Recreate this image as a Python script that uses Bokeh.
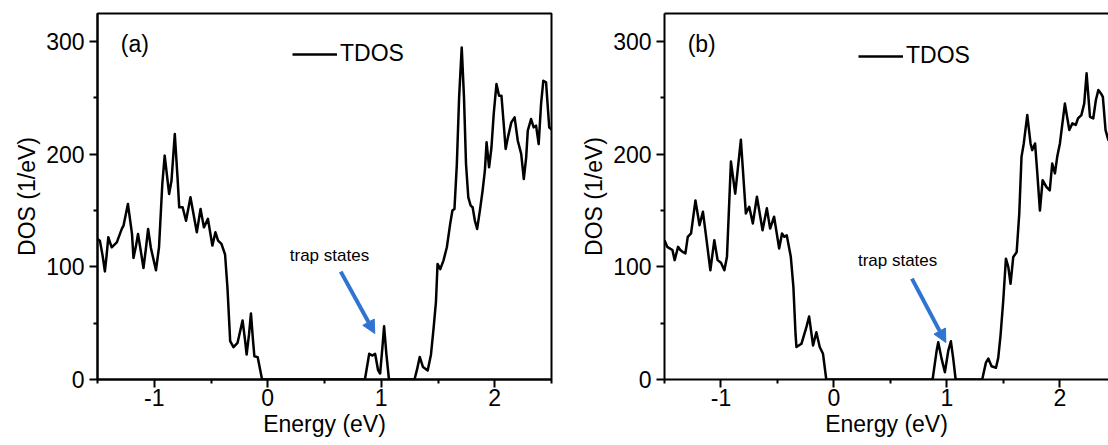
from bokeh.plotting import figure
from bokeh.models import (Range1d, FixedTicker, Legend, LegendItem, Label,
                          Arrow, NormalHead, LinearAxis)
from bokeh.layouts import row
from bokeh.embed import file_html
from bokeh.resources import INLINE

# Total density of states, panel (a)
energy_a = [-1.5, -1.479, -1.455, -1.435, -1.42, -1.405, -1.375, -1.33, -1.286, -1.271,
            -1.232, -1.196, -1.183, -1.162, -1.143, -1.12, -1.095, -1.075, -1.054, -1.03,
            -0.985, -0.958, -0.929, -0.908, -0.869, -0.848, -0.819, -0.795, -0.78, -0.75,
            -0.72, -0.681, -0.625, -0.592, -0.5625, -0.527, -0.488, -0.461, -0.4375, -0.408,
            -0.376, -0.355, -0.331, -0.302, -0.266, -0.222, -0.20, -0.186, -0.165, -0.148,
            -0.13, -0.118, -0.089, -0.05,
            0.856, 0.894, 0.923, 0.946, 0.972, 0.99, 1.01, 1.025, 1.045, 1.068,
            1.293, 1.316, 1.339, 1.368, 1.409, 1.438, 1.461, 1.482, 1.496, 1.52,
            1.548, 1.578, 1.607, 1.627, 1.645, 1.666, 1.686, 1.709, 1.729, 1.747,
            1.767, 1.788, 1.805, 1.825, 1.845, 1.869, 1.893, 1.913, 1.928, 1.95,
            1.971, 1.991, 2.015, 2.038, 2.059, 2.079, 2.096, 2.116, 2.146, 2.175,
            2.203, 2.233, 2.256, 2.277, 2.291, 2.32, 2.343, 2.364, 2.387, 2.408,
            2.428, 2.452, 2.48, 2.5]
dos_a = [124.8, 123.3, 110, 96, 110, 126.3, 117.4, 121.8, 133.7, 136.6,
         155.9, 129.3, 108, 118, 129.3, 115, 99, 115, 133.7, 117,
         97, 117.4, 173.6, 198.8, 164.8, 176.6, 218, 179.5, 152.9, 152.9,
         141, 161.8, 130.7, 151.5, 135.1, 142.6, 118.9, 130.7, 123.3, 120.4,
         111, 81.5, 34, 28.7, 32.6, 52.4, 35, 22.2, 40, 58.7,
         35, 20.7, 19.9, 0,
         0, 22.8, 21.3, 22.8, 8.3, 5.3, 28.4, 47.3, 22.8, 0,
         0, 9.2, 20, 11, 8, 22, 45.3, 69, 102.6, 98,
         105.6, 117.4, 138, 150, 151.4, 191, 250.5, 294.9, 250.5, 191,
         161.8, 154.4, 152.9, 141, 133.7, 150, 167.7, 185.4, 210.6, 188.4,
         206, 235.8, 262.4, 252, 252, 226.9, 204.7, 215, 228.3, 232.8,
         212, 200.3, 178, 197.3, 221, 231.3, 223.9, 225.4, 209, 244.6,
         265.3, 263.8, 223.9, 222]

# Total density of states, panel (b)
energy_b = [-1.5, -1.476, -1.447, -1.43, -1.41, -1.38, -1.36, -1.335, -1.315, -1.294,
            -1.265, -1.226, -1.19, -1.16, -1.124, -1.094, -1.059, -1.03, -1.0, -0.97,
            -0.947, -0.912, -0.874, -0.824, -0.78, -0.75, -0.718, -0.682, -0.632, -0.594,
            -0.565, -0.53, -0.485, -0.46, -0.44, -0.418, -0.382, -0.359, -0.34, -0.332,
            -0.288, -0.244, -0.22, -0.185, -0.156, -0.126, -0.097, -0.068,
            0.873, 0.909, 0.923, 0.953, 0.982, 1.012, 1.035, 1.056, 1.077,
            1.312, 1.345, 1.366, 1.395, 1.434, 1.454, 1.475, 1.498, 1.522, 1.543,
            1.563, 1.587, 1.617, 1.64, 1.66, 1.68, 1.711, 1.74, 1.755, 1.78,
            1.80, 1.823, 1.847, 1.88, 1.91, 1.932, 1.956, 1.976, 2.0, 2.044,
            2.083, 2.11, 2.14, 2.16, 2.19, 2.215, 2.236, 2.266, 2.295, 2.318,
            2.34, 2.363, 2.38, 2.404, 2.43]
dos_b = [123.7, 117.8, 116, 115, 106, 117.8, 115, 113, 112, 126.7,
         129.7, 159, 137, 149, 120.8, 97, 123.7, 106, 103.6, 97,
         109, 193.5, 165, 212.8, 147.5, 153.4, 138.6, 162.3, 132.6, 152,
         134, 144.5, 116.3, 129.7, 126.7, 128, 109, 82, 40, 28.8,
         31.7, 46.5, 56, 30.2, 42, 28.8, 22.8, 0,
         0, 25.7, 33.1, 18.3, 6.5, 25.7, 33.9, 18.3, 0,
         0, 15, 18.6, 11.8, 10.4, 19.2, 39.9, 69.5, 107.3, 100,
         85, 108.8, 113, 147, 197.7, 209.6, 234.8, 209.6, 203.7, 209.6,
         183, 150, 177, 171, 168, 191.8, 183, 197.7, 209.6, 245,
         221.5, 227.4, 226, 231.8, 234.8, 245, 271.9, 233.3, 231.8, 248,
         257, 254, 251, 221.5, 212]

x_major = [-1, 0, 1, 2]
x_minor = [-1.5, -0.5, 0.5, 1.5, 2.5]
y_major = [0, 100, 200, 300]
y_minor = [50, 150, 250]

FONT = "Liberation Sans"
ARROW_BLUE = "#2f74d2"


def style_axis(ax):
    ax.axis_line_width = 2
    ax.axis_line_color = "black"
    ax.major_tick_line_width = 2
    ax.minor_tick_line_width = 2
    ax.major_tick_line_color = "black"
    ax.minor_tick_line_color = "black"
    ax.major_tick_in = 0
    ax.major_tick_out = 8
    ax.minor_tick_in = 0
    ax.minor_tick_out = 4
    ax.major_label_text_font = FONT
    ax.major_label_text_font_size = "23px"
    ax.major_label_text_color = "black"
    ax.axis_label_text_font = FONT
    ax.axis_label_text_font_size = "23px"
    ax.axis_label_text_font_style = "normal"
    ax.axis_label_text_color = "black"


def make_panel(energy, dos, tag, x_end, width, left, right, legend_loc,
               trap_xy, arrow_xy, boxed):
    p = figure(width=width, height=445, output_backend="svg", toolbar_location=None,
               x_range=Range1d(-1.5, x_end), y_range=Range1d(0, 325),
               min_border_left=left, min_border_right=right,
               min_border_top=13, min_border_bottom=66)
    p.background_fill_color = "white"
    p.border_fill_color = "white"
    p.grid.visible = False

    xa = p.below[0]
    ya = p.left[0]
    xa.ticker = FixedTicker(ticks=x_major, minor_ticks=x_minor)
    ya.ticker = FixedTicker(ticks=y_major, minor_ticks=y_minor)
    xa.major_label_overrides = {-1: "-1", 0: "0", 1: "1", 2: "2"}
    style_axis(xa)
    style_axis(ya)
    xa.axis_label = "Energy (eV)"
    ya.axis_label = "DOS (1/eV)"
    xa.major_label_standoff = 1
    xa.axis_label_standoff = 2
    ya.major_label_standoff = 5
    ya.axis_label_standoff = 3

    if boxed:
        p.outline_line_color = "black"
        p.outline_line_width = 2
        p.outline_line_alpha = 1
    else:
        # open on the right: only a plain top border line
        p.outline_line_color = None
        top = LinearAxis(ticker=FixedTicker(ticks=[]), major_tick_line_color=None,
                         minor_tick_line_color=None, major_label_text_font_size="0px",
                         axis_line_width=2, axis_line_color="black",
                         major_label_standoff=0)
        p.add_layout(top, "above")

    r = p.line(energy, dos, line_color="black", line_width=2.5, line_join="round")

    legend = Legend(items=[LegendItem(label="TDOS", renderers=[r])],
                    location=legend_loc, glyph_width=45, glyph_height=20,
                    label_standoff=3, padding=0, margin=0, spacing=0,
                    border_line_color=None, background_fill_alpha=0,
                    label_text_font=FONT, label_text_font_size="23px",
                    label_text_color="black")
    p.add_layout(legend)

    p.add_layout(Label(x=-1.295, y=298, text=tag, text_font=FONT,
                       text_font_size="23px", text_baseline="middle",
                       text_align="left", text_color="black"))
    p.add_layout(Label(x=trap_xy[0], y=trap_xy[1], text="trap states", text_font=FONT,
                       text_font_size="17px", text_baseline="middle",
                       text_align="left", text_color="black"))
    p.add_layout(Arrow(end=NormalHead(size=13, fill_color=ARROW_BLUE,
                                      line_color=ARROW_BLUE),
                       x_start=arrow_xy[0], y_start=arrow_xy[1],
                       x_end=arrow_xy[2], y_end=arrow_xy[3],
                       line_color=ARROW_BLUE, line_width=4))
    return p


pa = make_panel(energy_a, dos_a, "(a)", 2.5, 570, 97, 19, (195, 312),
                (0.194, 110), (0.643, 95.8, 0.943, 40.8), True)
pb = make_panel(energy_b, dos_b, "(b)", 2.43, 538, 94, 0, (194, 310),
                (0.212, 105.6), (0.69, 89.6, 0.99, 32.8), False)

layout = row(pa, pb, spacing=0)
open("out.html", "w").write(file_html(layout, INLINE))
